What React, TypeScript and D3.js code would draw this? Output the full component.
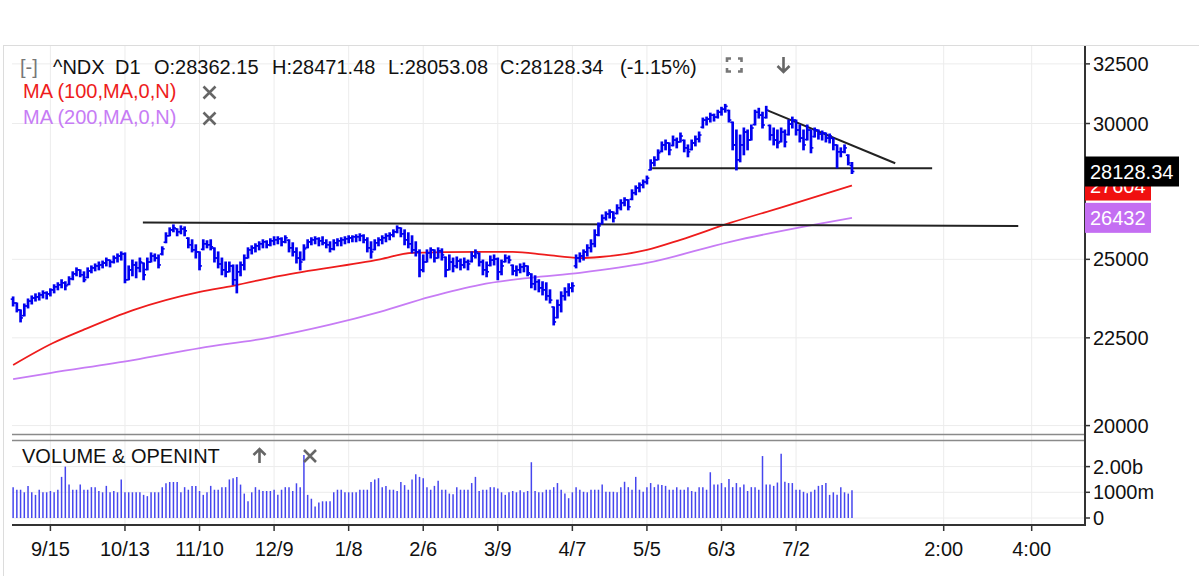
import React from "react";
import * as d3 from "d3";

// ---------- DATA ----------
const headerTokens = ["^NDX", "D1", "O:28362.15", "H:28471.48", "L:28053.08", "C:28128.34", "(-1.15%)"];
const lastClose = 28128.34;
const ma100Last = 27604;
const ma200Last = 26432;

const dateTickIdx = [10, 30, 50, 70, 90, 110, 130, 150, 170, 190, 210, 249.6, 273.2];
const dateTickLabels = ["9/15", "10/13", "11/10", "12/9", "1/8", "2/6", "3/9", "4/7", "5/5", "6/3", "7/2", "2:00", "4:00"];

const priceTicks = [20000, 22500, 25000, 30000, 32500];
const volTicks = [0, 1000, 2000];
const volTickLabels = ["0", "1000m", "2.00b"];

const opens = [
  23700, 23577, 23359, 23180, 23483, 23639, 23737, 23770, 23835, 23900,
  23868, 23998, 24096, 24161, 24226, 24170, 24357, 24520, 24650, 24487,
  24400, 24617, 24715, 24780, 24813, 24878, 24976, 24911, 25044, 25113,
  25182, 24324, 24650, 24813, 24715, 24911, 24660, 24911, 25113, 25044,
  25180, 25580, 25803, 26010, 26079, 25941, 26045, 25720, 25493, 25320,
  25251, 25340, 25527, 25493, 25380, 25044, 24846, 24650, 24585, 24780,
  24324, 24585, 24813, 25044, 25320, 25389, 25458, 25527, 25596, 25493,
  25631, 25665, 25700, 25596, 25650, 25389, 25251, 25044, 24990, 25400,
  25596, 25665, 25700, 25631, 25562, 25493, 25355, 25562, 25631, 25665,
  25700, 25734, 25769, 25769, 25803, 25665, 25389, 25330, 25562, 25665,
  25734, 25803, 25838, 25941, 26079, 25872, 25665, 25527, 25320, 25251,
  24650, 24911, 25217, 25320, 25044, 25286, 25070, 24650, 24911, 24780,
  24943, 24813, 24911, 24930, 25113, 25200, 24911, 24650, 24800, 24976,
  25010, 24585, 24920, 25044, 24800, 24617, 24650, 24748, 24780, 24510,
  24194, 24259, 24063, 23998, 23802, 23452, 23120, 23515, 23802, 23933,
  24063, 24780, 25044, 25113, 25251, 25389, 25527, 25838, 26230, 26426,
  26571, 26644, 26590, 26790, 26972, 27081, 27100, 27336, 27518, 27627,
  27736, 28188, 28458, 28573, 28900, 29150, 29228, 29130, 29343, 29266,
  29330, 29035, 28970, 29228, 29380, 29850, 30140, 30180, 30340, 30260,
  30460, 30580, 30530, 30050, 29150, 28573, 29150, 29660, 29343, 29960,
  30460, 30340, 30240, 29920, 29540, 29343, 29280, 29660, 29560, 29980,
  30140, 29740, 29420, 29360, 29740, 29480, 29740, 29580, 29620, 29420,
  29410, 29150, 28881, 28881, 28750, 28362.15,
];

const highs = [
  23770, 23577, 23359, 23546, 23705, 23802, 23868, 23900, 23965, 23933,
  24031, 24161, 24226, 24324, 24259, 24422, 24585, 24715, 24650, 24585,
  24715, 24780, 24846, 24911, 24943, 25044, 24976, 25113, 25182, 25251,
  25217, 24780, 24976, 24911, 25044, 24878, 25044, 25217, 25182, 25148,
  25424, 25907, 26079, 26183, 26045, 26148, 26114, 25734, 25665, 25493,
  25251, 25665, 25631, 25665, 25389, 25251, 25044, 24911, 24911, 24813,
  24813, 24911, 25148, 25389, 25458, 25527, 25596, 25665, 25631, 25700,
  25769, 25769, 25734, 25803, 25665, 25562, 25389, 25251, 25493, 25665,
  25734, 25769, 25734, 25769, 25665, 25596, 25665, 25700, 25734, 25769,
  25803, 25803, 25838, 25872, 25838, 25734, 25596, 25665, 25734, 25803,
  25872, 25907, 26010, 26148, 26079, 26010, 25907, 25803, 25596, 25320,
  25148, 25320, 25389, 25320, 25389, 25355, 25079, 25148, 25044, 25079,
  25010, 25044, 24976, 25251, 25320, 25217, 24976, 24911, 25113, 25148,
  25044, 24976, 25148, 25113, 24813, 24780, 24846, 24878, 24780, 24520,
  24454, 24324, 24259, 24226, 23998, 23452, 23670, 23933, 24063, 24194,
  24226, 25148, 25217, 25320, 25493, 25665, 26010, 26252, 26535, 26644,
  26717, 26644, 26899, 27081, 27154, 27081, 27445, 27591, 27700, 27809,
  27957, 28573, 28689, 28958, 29266, 29343, 29228, 29500, 29420, 29620,
  29343, 29150, 29343, 29500, 29660, 30220, 30260, 30420, 30380, 30540,
  30660, 30780, 30540, 30060, 29740, 29540, 29820, 29740, 29940, 30540,
  30620, 30460, 30700, 29940, 29820, 29740, 29820, 29740, 30140, 30260,
  30140, 29940, 29740, 29940, 29740, 29820, 29740, 29700, 29620, 29580,
  29420, 29150, 29035, 29150, 28766, 28471.48,
];

const lows = [
  23483, 23297, 22986, 23172, 23421, 23546, 23639, 23670, 23737, 23705,
  23802, 23900, 23998, 24063, 23998, 24161, 24324, 24454, 24422, 24259,
  24389, 24552, 24617, 24650, 24715, 24780, 24748, 24878, 24911, 24976,
  24226, 24324, 24454, 24389, 24585, 24324, 24650, 24911, 24943, 24715,
  25148, 25562, 25803, 25941, 25803, 25872, 25803, 25389, 25251, 25044,
  24650, 25320, 25389, 25320, 24911, 24715, 24487, 24422, 24585, 24161,
  23900, 24454, 24650, 25044, 25182, 25251, 25320, 25389, 25389, 25458,
  25493, 25527, 25458, 25562, 25251, 25113, 24878, 24650, 24976, 25389,
  25493, 25527, 25458, 25493, 25389, 25251, 25320, 25458, 25458, 25527,
  25562, 25596, 25596, 25631, 25562, 25251, 25044, 25320, 25458, 25527,
  25596, 25665, 25769, 25907, 25769, 25493, 25389, 25217, 25113, 24422,
  24585, 24911, 25044, 24911, 25044, 24976, 24422, 24650, 24585, 24715,
  24650, 24715, 24650, 24911, 25044, 24780, 24487, 24422, 24780, 24813,
  24324, 24487, 24911, 24878, 24487, 24454, 24552, 24585, 24454, 24063,
  23998, 23933, 23835, 23670, 23577, 22893, 23110, 23297, 23670, 23802,
  23933, 24715, 24911, 24976, 25113, 25251, 25424, 25803, 26217, 26355,
  26426, 26286, 26571, 26717, 26863, 26717, 27081, 27263, 27372, 27518,
  27663, 28188, 28342, 28573, 28881, 28958, 28766, 29112, 29035, 29266,
  28881, 28689, 28958, 29112, 29266, 29820, 29940, 30060, 30100, 30220,
  30340, 30460, 30060, 28958, 28188, 28496, 28766, 28958, 29343, 29940,
  30220, 29820, 30220, 29343, 29150, 29035, 29266, 29074, 29540, 29820,
  29540, 29266, 28958, 29343, 28843, 29460, 29380, 29343, 29266, 29228,
  28958, 28265, 28689, 28843, 28381, 28053.08,
];

const closes = [
  23577, 23359, 23110, 23483, 23639, 23737, 23770, 23835, 23900, 23868,
  23998, 24096, 24161, 24226, 24128, 24357, 24520, 24650, 24487, 24324,
  24617, 24715, 24780, 24813, 24878, 24976, 24911, 25044, 25113, 25182,
  24324, 24650, 24813, 24715, 24911, 24487, 24911, 25113, 25044, 24813,
  25355, 25803, 26010, 26079, 25941, 26045, 25976, 25493, 25320, 25251,
  24780, 25527, 25493, 25424, 25044, 24846, 24650, 24585, 24780, 24324,
  24585, 24813, 25044, 25320, 25389, 25458, 25527, 25596, 25493, 25631,
  25665, 25700, 25596, 25734, 25389, 25251, 25044, 24911, 25355, 25596,
  25665, 25700, 25631, 25562, 25493, 25355, 25562, 25631, 25665, 25700,
  25734, 25769, 25769, 25803, 25665, 25389, 25251, 25562, 25665, 25734,
  25803, 25838, 25941, 26079, 25872, 25665, 25527, 25320, 25251, 24650,
  24911, 25217, 25320, 25044, 25286, 25148, 24650, 24911, 24780, 24943,
  24813, 24911, 24846, 25113, 25251, 24911, 24650, 24585, 24976, 25010,
  24585, 24780, 25044, 24976, 24617, 24650, 24748, 24780, 24552, 24194,
  24259, 24063, 23998, 23802, 23670, 22986, 23515, 23802, 23933, 24063,
  24128, 25044, 25113, 25251, 25389, 25527, 25838, 26148, 26426, 26571,
  26644, 26426, 26790, 26972, 27081, 26826, 27336, 27518, 27627, 27736,
  27880, 28458, 28573, 28843, 29150, 29228, 28958, 29343, 29266, 29500,
  29035, 28881, 29228, 29380, 29540, 30140, 30180, 30340, 30260, 30460,
  30580, 30700, 30140, 29150, 28573, 29150, 29660, 29343, 29820, 30460,
  30340, 29940, 30540, 29540, 29343, 29228, 29660, 29266, 29980, 30140,
  29740, 29420, 29150, 29740, 29035, 29740, 29580, 29620, 29420, 29500,
  29150, 28881, 28881, 29035, 28455, 28128.34,
];

// volume in millions
const volumes = [
  1200, 1100, 1100, 1000, 1250, 1000, 900, 1100, 1000, 1000,
  1050, 1000, 1100, 1600, 2000, 1300, 1100, 1100, 1300, 1100,
  1100, 1200, 1200, 1050, 1000, 1250, 1000, 1050, 1000, 1500,
  1000, 1000, 1000, 1000, 1000, 900, 850, 1000, 1000, 1000,
  1200, 1350, 1400, 1400, 1400, 1000, 1200, 1100, 1250, 1250,
  1050, 900, 1000, 1250, 1100, 1100, 1200, 1200, 1500, 1550,
  1600, 1300, 950, 650, 1000, 1200, 1100, 1050, 1050, 1050,
  1100, 900, 1100, 1200, 1200, 1050, 1350, 1200, 2450, 900,
  750, 450, 600, 650, 650, 650, 1000, 1100, 1100, 1000,
  1000, 1000, 1000, 1100, 1100, 1100, 1400, 1500, 1550, 1200,
  1250, 1100, 1100, 1050,
  1400, 1280, 1100, 1500, 1700, 1600, 1550, 1200, 1100, 1250,
  1450, 1100, 1100, 950, 920, 1200, 1100, 1100, 1100, 1360,
  1600, 1050, 1100, 1100, 1200, 1200, 1150, 1000, 900, 1000,
  1050, 1000, 1080, 1000, 1050, 2170, 1050, 1000, 1000, 1100,
  1100, 1200, 1360, 1100, 950, 770, 1000, 1200, 1100, 1020,
  1000, 1100, 1100, 1100, 1300, 1020, 1020, 1020, 1000, 1200,
  1410, 1200, 1100, 1600, 1100, 1020, 1200, 1360, 1200, 1300,
  1280, 1250, 1100, 1100, 1200, 1100, 1100, 1200, 1050, 1020,
  1200, 1200, 1100, 1780, 1300, 1300, 1360, 1200, 1520, 1200,
  1360, 1200, 1300, 1050, 1200, 1200, 1100, 2410, 1300, 1300,
  1250, 1380, 2500, 1410, 1360, 1360, 1100, 1100, 1020, 960,
  1020, 1100, 1250, 1280, 1360, 900, 1000, 900, 1200, 1000,
  950, 1080,
];

const ma100Idx = [0, 10.7, 18.7, 32.2, 50.1, 59, 71.6, 98.4, 107, 125, 134, 143, 152, 157.4, 170, 179, 192.3, 205.7, 225];
const ma100Val = [21694, 22344, 22736, 23354, 23933, 24128, 24454, 25000, 25217, 25251, 25251, 25148, 25044, 25079, 25320, 25665, 26252, 26790, 27604];

const ma200Idx = [0, 9.9, 32.2, 50.1, 68, 85, 98.4, 111.8, 125.2, 138.6, 152, 170, 192.3, 214.6, 225];
const ma200Val = [21290, 21462, 21840, 22194, 22494, 22900, 23297, 23770, 24161, 24389, 24552, 24878, 25596, 26183, 26432];

const trendStartIdx = [34.8, 171.4, 202.5];
const trendStartVal = [26269, 28254, 30521];
const trendEndIdx = [269.6, 246.5, 236.6];
const trendEndVal = [26148, 28254, 28440];

// ---------- CHART ----------
const FONT = "'Liberation Sans', Arial, Helvetica, sans-serif";

export default function App() {
  const W = 1199;
  const H = 576;
  const left = 12;
  const right = 1085;
  const priceTop = 45;
  const priceBottom = 435;
  const volTop = 440.9;
  const volBase = 518;
  const axisY = 525;

  const x = d3.scaleLinear().domain([-0.3, 287.5]).range([left, right]);
  const y = d3.scaleLog().domain([19749, 33334]).range([priceBottom, priceTop]);
  const yv = d3.scaleLinear().domain([0, 3000]).range([volBase, volTop]);

  const line = d3
    .line<[number, number]>()
    .x((d) => x(d[0]))
    .y((d) => y(d[1]))
    .curve(d3.curveMonotoneX);

  const ma100Path = line(ma100Idx.map((v, i) => [v, ma100Val[i]] as [number, number])) || "";
  const ma200Path = line(ma200Idx.map((v, i) => [v, ma200Val[i]] as [number, number])) || "";

  const headerX = [53, 115, 154, 272, 388, 500, 620];

  const xMark = (cx: number, cy: number, r: number, key: string) => (
    <path
      key={key}
      d={`M${cx - r},${cy - r}L${cx + r},${cy + r}M${cx + r},${cy - r}L${cx - r},${cy + r}`}
      stroke="#666"
      strokeWidth={2.6}
      fill="none"
    />
  );

  const boxH = 30;
  const boxes = [
    { v: ma100Last, label: String(ma100Last), fill: "#f01010", w: 66 },
    { v: ma200Last, label: String(ma200Last), fill: "#c46ef2", w: 66 },
    { v: lastClose, label: lastClose.toFixed(2), fill: "#000000", w: 94 },
  ];

  return (
    <svg
      width={W}
      height={H}
      style={{ position: "absolute", left: 0, top: 0, background: "#fff" }}
      fontFamily={FONT}
    >
      <rect x={0} y={0} width={W} height={H} fill="#fff" />
      {/* frame */}
      <line x1={3.5} x2={3.5} y1={45} y2={H} stroke="#dcdcdc" strokeWidth={1} />
      <line x1={3} x2={W} y1={45.5} y2={45.5} stroke="#dcdcdc" strokeWidth={1} />

      {/* vertical grid */}
      {dateTickIdx.map((t, i) => (
        <line key={"vg" + i} x1={x(t)} x2={x(t)} y1={46} y2={axisY} stroke="#ececec" strokeWidth={1} />
      ))}
      {/* horizontal grid price */}
      {priceTicks.map((t, i) => (
        <line key={"hg" + i} x1={left} x2={right} y1={y(t)} y2={y(t)} stroke="#ececec" strokeWidth={1} />
      ))}
      {volTicks.map((t, i) => (
        <line key={"vgv" + i} x1={left} x2={right} y1={yv(t)} y2={yv(t)} stroke="#ececec" strokeWidth={1} />
      ))}

      {/* MA lines */}
      <path d={ma200Path} fill="none" stroke="#c77cf5" strokeWidth={1.8} />
      <path d={ma100Path} fill="none" stroke="#ee1c1c" strokeWidth={1.8} />

      {/* trend lines */}
      {trendStartIdx.map((s, i) => (
        <line
          key={"tl" + i}
          x1={x(s)}
          y1={y(trendStartVal[i])}
          x2={x(trendEndIdx[i])}
          y2={y(trendEndVal[i])}
          stroke="#222"
          strokeWidth={2}
        />
      ))}

      {/* OHLC bars */}
      {closes.map((c, i) => {
        const cx = x(i);
        const h = highs[i];
        const l = lows[i];
        const o = Math.min(h, Math.max(l, opens[i]));
        return (
          <g key={"b" + i} stroke="#0000f0">
            <line x1={cx} x2={cx} y1={y(h) - 0.5} y2={y(l) + 0.5} strokeWidth={2.7} />
            <line x1={cx - 2.4} x2={cx} y1={y(o)} y2={y(o)} strokeWidth={1.6} />
            <line x1={cx} x2={cx + 2.4} y1={y(c)} y2={y(c)} strokeWidth={1.6} />
          </g>
        );
      })}

      {/* separators */}
      <line x1={left} x2={right} y1={434.5} y2={434.5} stroke="#8a8a8a" strokeWidth={1.5} />
      <line x1={left} x2={right} y1={440.5} y2={440.5} stroke="#8a8a8a" strokeWidth={1.5} />

      {/* volume bars */}
      {volumes.map((v, i) => (
        <line key={"v" + i} x1={x(i)} x2={x(i)} y1={volBase} y2={yv(v)} stroke="#4646ee" strokeWidth={1.5} />
      ))}

      {/* axes */}
      <line x1={right} x2={right} y1={46} y2={axisY + 1} stroke="#333" strokeWidth={2} />
      <line x1={left} x2={right} y1={axisY} y2={axisY} stroke="#333" strokeWidth={2} />
      {dateTickIdx.map((t, i) => (
        <g key={"dt" + i}>
          <line x1={x(t)} x2={x(t)} y1={axisY} y2={axisY + 6} stroke="#333" strokeWidth={1.5} />
          <text x={x(t)} y={556} fontSize={20} textAnchor="middle" fill="#111">
            {dateTickLabels[i]}
          </text>
        </g>
      ))}
      {priceTicks.map((t, i) => (
        <g key={"pt" + i}>
          <line x1={right} x2={right + 5} y1={y(t)} y2={y(t)} stroke="#333" strokeWidth={1.5} />
          <text x={1093} y={y(t) + 7} fontSize={20} fill="#111">
            {String(t)}
          </text>
        </g>
      ))}
      {volTicks.map((t, i) => (
        <g key={"vt" + i}>
          <line x1={right} x2={right + 5} y1={yv(t)} y2={yv(t)} stroke="#333" strokeWidth={1.5} />
          <text x={1093} y={yv(t) + 7} fontSize={20} fill="#111">
            {volTickLabels[i]}
          </text>
        </g>
      ))}

      {/* price boxes (red box sits partly under the black last-price box, as in the reference) */}
      {boxes.map((b, i) => (
        <g key={"box" + i}>
          <rect x={right} y={y(b.v) - boxH / 2} width={b.w} height={boxH} fill={b.fill} />
          <text x={right + 5} y={y(b.v) + 7.5} fontSize={20} fill="#fff">
            {b.label}
          </text>
        </g>
      ))}

      {/* header */}
      <text x={20} y={74} fontSize={20} fill="#777">[-]</text>
      {headerTokens.map((t, i) => (
        <text key={"h" + i} x={headerX[i]} y={74} fontSize={20} fill="#111">
          {t}
        </text>
      ))}
      {/* fullscreen icon */}
      <g stroke="#777" strokeWidth={2.6} fill="none">
        <path d="M727,62V58.5H731M738,58.5H741.5V62M741.5,68V71.5H738M731,71.5H727V68" />
      </g>
      {/* download arrow */}
      <g stroke="#666" strokeWidth={2.6} fill="none">
        <path d="M783.5,57V72M777.5,66L783.5,72L789.5,66" />
      </g>

      <text x={23} y={98} fontSize={20} fill="#ee1c1c">MA (100,MA,0,N)</text>
      {xMark(209.5, 92.5, 6, "x1")}
      <text x={23} y={124} fontSize={20} fill="#c77cf5">MA (200,MA,0,N)</text>
      {xMark(209.5, 118.5, 6, "x2")}

      {/* volume header */}
      <text x={22} y={463} fontSize={20} fill="#111">VOLUME &amp; OPENINT</text>
      <g stroke="#666" strokeWidth={2.6} fill="none">
        <path d="M259.5,463V449M253.5,455L259.5,449L265.5,455" />
      </g>
      {xMark(310, 456, 6, "x3")}
    </svg>
  );
}
